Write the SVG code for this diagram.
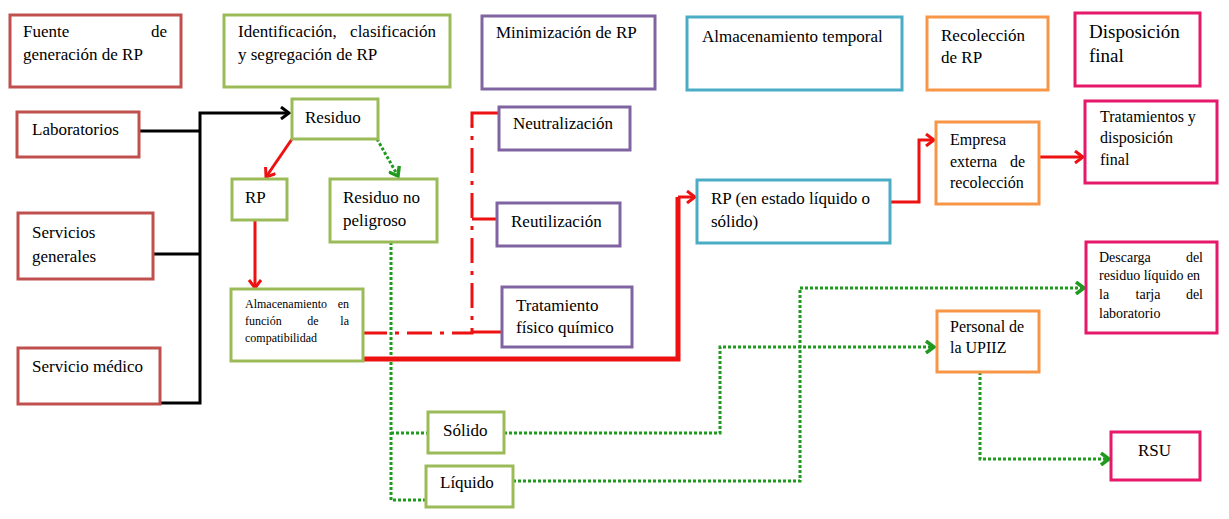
<svg xmlns="http://www.w3.org/2000/svg" width="1229" height="519" viewBox="0 0 1229 519" font-family="Liberation Serif, DejaVu Serif, serif">
<style>
 .box{fill:#fff;stroke-width:3}
 .src{stroke:#C0504D}
 .idf{stroke:#9BBB59}
 .min{stroke:#8064A2}
 .alm{stroke:#4BACC6}
 .rec{stroke:#F79646}
 .dis{stroke:#E5186A}
 text{fill:#000;font-size:17px}
 .s16{font-size:16px}
 .s14{font-size:14px}
 .s12{font-size:12px}
 .s19{font-size:19px}
 .end{text-anchor:end}
 .mid{text-anchor:middle}
 .blk{stroke:#000;stroke-width:3;fill:none}
 .red{stroke:#EE1111;stroke-width:3;fill:none}
 .redb{stroke:#EE1111;stroke-width:5;fill:none}
 .dd{stroke-dasharray:25 8 4 8}
 .grn{stroke:#1F9A1F;stroke-width:3;fill:none;stroke-dasharray:3 2}
</style>
<defs>
 <marker id="ab" markerWidth="14" markerHeight="14" refX="11" refY="7" orient="auto" markerUnits="userSpaceOnUse"><path d="M3,1 L11,7 L3,13" fill="none" stroke="#000" stroke-width="3"/></marker>
 <marker id="ar" markerWidth="14" markerHeight="14" refX="11" refY="7" orient="auto" markerUnits="userSpaceOnUse"><path d="M3,1 L11,7 L3,13" fill="none" stroke="#EE1111" stroke-width="3"/></marker>
 <marker id="ag" markerWidth="14" markerHeight="14" refX="11" refY="7" orient="auto" markerUnits="userSpaceOnUse"><path d="M3,1 L11,7 L3,13" fill="none" stroke="#1F9A1F" stroke-width="3.5"/></marker>
</defs>

<g id="connectors">
 <path class="blk" d="M139,131 H200"/>
 <path class="blk" d="M153,254 H200"/>
 <path class="blk" d="M160,403 H200 V113 H289" marker-end="url(#ab)"/>
 <path class="red" d="M292,139 L266,177" marker-end="url(#ar)"/>
 <path class="grn" d="M377,139 L398,176" marker-end="url(#ag)"/>
 <path class="red" d="M255,220 V288" marker-end="url(#ar)"/>
 <path class="grn" d="M391,242 V500 H426"/>
 <path class="grn" d="M391,433 H428"/>
 <path class="red dd" d="M362,333 H472 V125"/>
 <path class="red" d="M472,126 V113 H499"/>
 <path class="red" d="M472,219 H497"/>
 <path class="red" d="M472,332 H502"/>
 <path class="redb" d="M362,359 H678 V197"/>
 <path class="red" d="M678,197 H695" marker-end="url(#ar)"/>
 <path class="red" d="M890,202 H919 V140 H934" marker-end="url(#ar)"/>
 <path class="red" d="M1039,157 H1083" marker-end="url(#ar)"/>
 <path class="grn" d="M504,433 H720 V347 H934" marker-end="url(#ag)"/>
 <path class="grn" d="M513,481 H800 V288 H1084" marker-end="url(#ag)"/>
 <path class="grn" d="M980,372 V459 H1109" marker-end="url(#ag)"/>
</g>

<g id="h-fuente">
 <rect class="box src" x="10" y="15" width="171" height="72"/>
 <text y="37"><tspan x="23">Fuente</tspan><tspan class="end" x="167">de</tspan></text>
 <text x="23" y="60">generación de RP</text>
</g>
<g id="h-identificacion">
 <rect class="box idf" x="224" y="15" width="226" height="72"/>
 <text y="37"><tspan x="238">Identificación,</tspan><tspan class="end" x="436">clasificación</tspan></text>
 <text x="238" y="60">y segregación de RP</text>
</g>
<g id="h-minimizacion">
 <rect class="box min" x="482" y="16" width="173" height="73"/>
 <text x="496" y="38">Minimización de RP</text>
</g>
<g id="h-almacenamiento">
 <rect class="box alm" x="687" y="17" width="215" height="73"/>
 <text x="702" y="42">Almacenamiento temporal</text>
</g>
<g id="h-recoleccion">
 <rect class="box rec" x="927" y="17" width="121" height="73"/>
 <text x="941" y="41">Recolección</text>
 <text x="941" y="63">de RP</text>
</g>
<g id="h-disposicion">
 <rect class="box dis" x="1075" y="13" width="125" height="73"/>
 <text class="s19" x="1089" y="38">Disposición</text>
 <text class="s19" x="1089" y="62">final</text>
</g>

<g id="laboratorios">
 <rect class="box src" x="17" y="112" width="122" height="45"/>
 <text x="32" y="135">Laboratorios</text>
</g>
<g id="servicios-generales">
 <rect class="box src" x="18" y="213" width="135" height="66"/>
 <text x="32" y="238">Servicios</text>
 <text x="32" y="262">generales</text>
</g>
<g id="servicio-medico">
 <rect class="box src" x="18" y="348" width="142" height="56"/>
 <text x="32" y="372">Servicio médico</text>
</g>
<g id="residuo">
 <rect class="box idf" x="292" y="99" width="86" height="40"/>
 <text x="305" y="123">Residuo</text>
</g>
<g id="rp">
 <rect class="box idf" x="232" y="179" width="55" height="41"/>
 <text x="245" y="203">RP</text>
</g>
<g id="residuo-no-peligroso">
 <rect class="box idf" x="330" y="179" width="107" height="63"/>
 <text x="343" y="203">Residuo no</text>
 <text x="343" y="226">peligroso</text>
</g>
<g id="almacenamiento-compatibilidad">
 <rect class="box idf" x="231" y="289" width="132" height="72"/>
 <text class="s12" y="308"><tspan x="245">Almacenamiento</tspan><tspan class="end" x="349">en</tspan></text>
 <text class="s12" y="325"><tspan x="245">función</tspan><tspan class="mid" x="313">de</tspan><tspan class="end" x="349">la</tspan></text>
 <text class="s12" x="245" y="342">compatibilidad</text>
</g>
<g id="solido">
 <rect class="box idf" x="428" y="412" width="76" height="41"/>
 <text x="443" y="436">Sólido</text>
</g>
<g id="liquido">
 <rect class="box idf" x="426" y="466" width="87" height="41"/>
 <text x="440" y="488">Líquido</text>
</g>
<g id="neutralizacion">
 <rect class="box min" x="499" y="107" width="131" height="43"/>
 <text x="513" y="129">Neutralización</text>
</g>
<g id="reutilizacion">
 <rect class="box min" x="497" y="203" width="123" height="43"/>
 <text x="511" y="227">Reutilización</text>
</g>
<g id="tratamiento-fq">
 <rect class="box min" x="502" y="287" width="130" height="60"/>
 <text x="516" y="311">Tratamiento</text>
 <text x="516" y="333">físico químico</text>
</g>
<g id="rp-estado">
 <rect class="box alm" x="697" y="180" width="193" height="63"/>
 <text x="711" y="204">RP (en estado líquido o</text>
 <text x="711" y="227">sólido)</text>
</g>
<g id="empresa">
 <rect class="box rec" x="936" y="122" width="103" height="82"/>
 <text class="s16" x="950" y="145">Empresa</text>
 <text class="s16" y="167"><tspan x="950">externa</tspan><tspan class="end" x="1025">de</tspan></text>
 <text class="s16" x="950" y="188">recolección</text>
</g>
<g id="personal">
 <rect class="box rec" x="937" y="311" width="102" height="61"/>
 <text class="s16" x="950" y="332">Personal de</text>
 <text class="s16" x="950" y="353">la UPIIZ</text>
</g>
<g id="tratamientos-disposicion">
 <rect class="box dis" x="1085" y="101" width="132" height="82"/>
 <text class="s16" x="1100" y="122">Tratamientos y</text>
 <text class="s16" x="1100" y="143">disposición</text>
 <text class="s16" x="1100" y="165">final</text>
</g>
<g id="descarga">
 <rect class="box dis" x="1086" y="242" width="131" height="91"/>
 <text class="s14" y="262"><tspan x="1099">Descarga</tspan><tspan class="end" x="1203">del</tspan></text>
 <text class="s14" x="1099" y="280">residuo líquido en</text>
 <text class="s14" y="299"><tspan x="1099">la</tspan><tspan class="mid" x="1148">tarja</tspan><tspan class="end" x="1203">del</tspan></text>
 <text class="s14" x="1099" y="318">laboratorio</text>
</g>
<g id="rsu">
 <rect class="box dis" x="1111" y="432" width="89" height="48"/>
 <text x="1138" y="456">RSU</text>
</g>
</svg>
